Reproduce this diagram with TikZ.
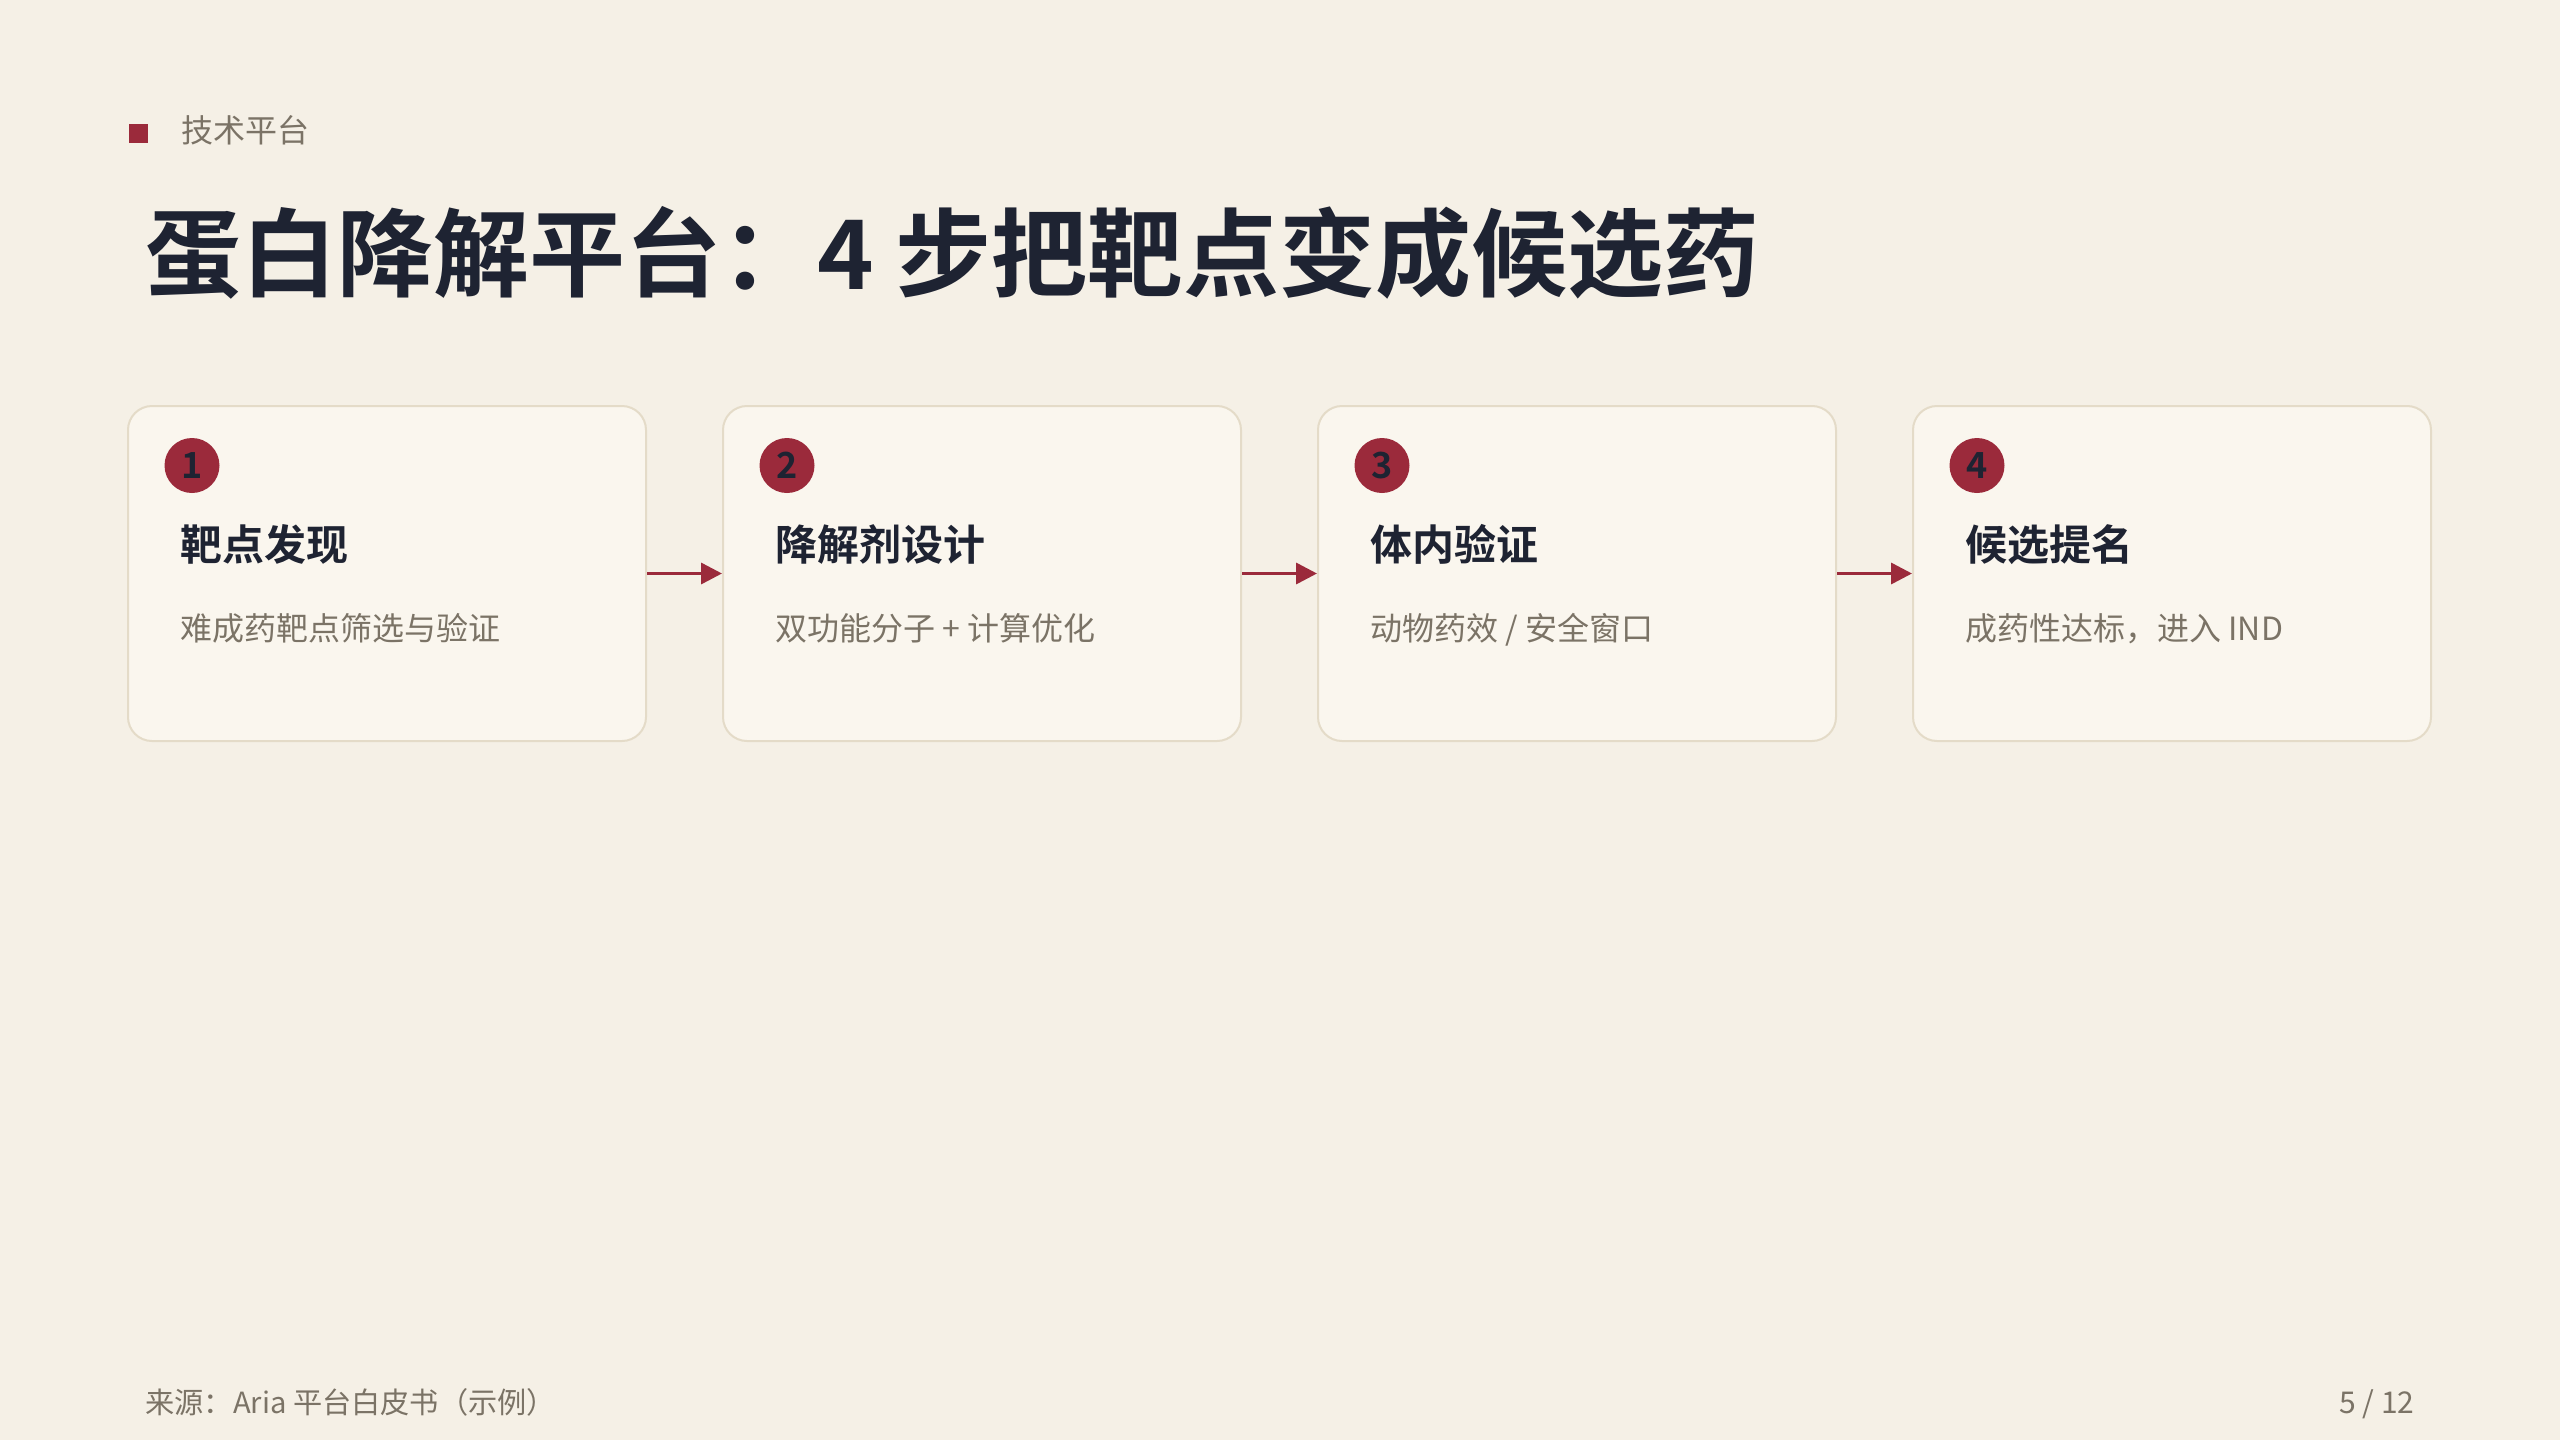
\documentclass[tikz,border=0pt]{standalone}
\usepackage{fontspec}
\setmainfont{Noto Sans CJK SC}[BoldFont={Noto Sans CJK SC Bold}]
\usetikzlibrary{arrows.meta}
\definecolor{bg}{HTML}{F5F0E6}
\definecolor{cardfill}{HTML}{FAF6EE}
\definecolor{cardline}{HTML}{E4DBC8}
\definecolor{accent}{HTML}{9B2A3B}
\definecolor{ink}{HTML}{1E2332}
\definecolor{muted}{HTML}{7B7366}
\tikzset{
  card/.style={draw=cardline, fill=cardfill, line width=1pt, rounded corners=12pt,
    minimum width=259pt, minimum height=167.5pt, inner sep=0pt},
  numdot/.style={circle, fill=accent, minimum size=27.5pt, inner sep=0pt,
    text=ink, font=\fontsize{18pt}{20pt}\selectfont\bfseries},
  cardtitle/.style={anchor=base west, inner sep=0pt, text=ink,
    font=\fontsize{21pt}{24pt}\selectfont\bfseries},
  cardsub/.style={anchor=base west, inner sep=0pt, text=muted,
    font=\fontsize{16pt}{19pt}\selectfont},
  flow/.style={draw=accent, line width=1.75pt, -{Triangle[length=10.5pt, width=10.5pt]}},
  small/.style={inner sep=0pt, text=muted, font=\fontsize{15pt}{18pt}\selectfont}
}
\begin{document}
\begin{tikzpicture}[x=0.5pt, y=-0.5pt]
\useasboundingbox (0,0) rectangle (2560,1440);
\fill[bg] (0,0) rectangle (2560,1440);

% header tag
\node[fill=accent, minimum size=9.5pt, inner sep=0pt] (tagsq) at (138,133.5) {};
\node[small, anchor=base west, font=\fontsize{16pt}{18pt}\selectfont] (tag) at (181,142.5) {技术平台};

% title
\node[anchor=base west, inner sep=0pt, text=ink, font=\fontsize{48pt}{56pt}\selectfont\bfseries]
  (title) at (145,289) {蛋白降解平台：4 步把靶点变成候选药};

% cards
\node[card] (b1) at (387,573.5) {};
\node[card] (b2) at (982,573.5) {};
\node[card] (b3) at (1577,573.5) {};
\node[card] (b4) at (2172,573.5) {};

% number dots
\node[numdot] (n1) at (192,465.5) {1};
\node[numdot] (n2) at (787,465.5) {2};
\node[numdot] (n3) at (1382,465.5) {3};
\node[numdot] (n4) at (1977,465.5) {4};

% card titles
\node[cardtitle] (t1) at (180,560) {靶点发现};
\node[cardtitle] (t2) at (775,560) {降解剂设计};
\node[cardtitle] (t3) at (1370,560) {体内验证};
\node[cardtitle] (t4) at (1965,560) {候选提名};

% card subtitles
\node[cardsub] (s1) at (180,640) {难成药靶点筛选与验证};
\node[cardsub] (s2) at (775,640) {双功能分子 + 计算优化};
\node[cardsub] (s3) at (1370,640) {动物药效 / 安全窗口};
\node[cardsub] (s4) at (1965,640) {成药性达标，进入 IND};

% connectors
\draw[flow] (b1.east) -- (b2.west);
\draw[flow] (b2.east) -- (b3.west);
\draw[flow] (b3.east) -- (b4.west);

% footer
\node[small, anchor=base west, font=\fontsize{14.6pt}{18pt}\selectfont] (src) at (145,1413) {来源：Aria 平台白皮书（示例）};
\node[small, anchor=base east] (page) at (2415,1413) {5 / 12};
\end{tikzpicture}
\end{document}
